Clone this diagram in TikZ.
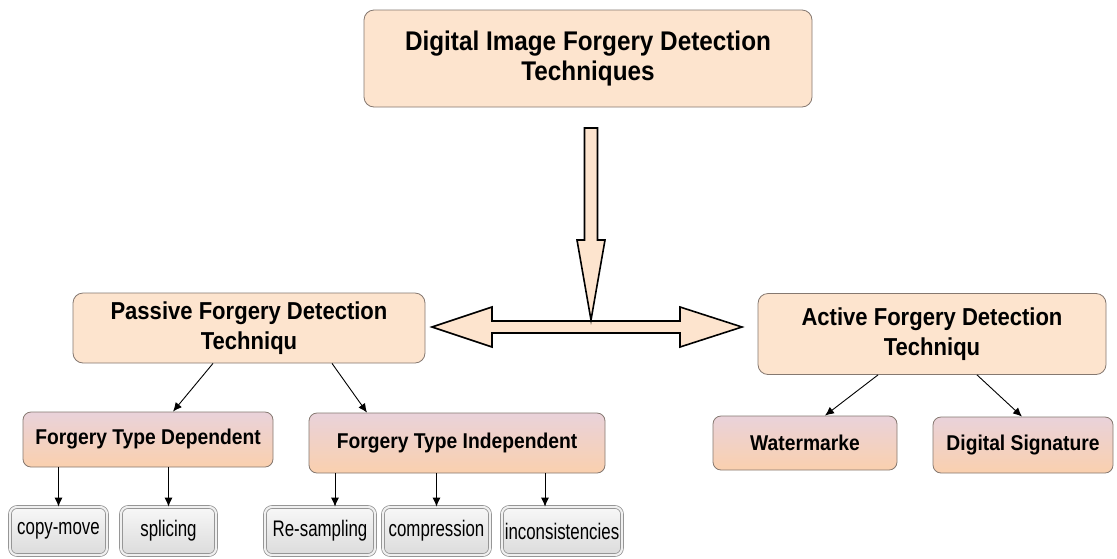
\documentclass[tikz,border=0pt]{standalone}
\usepackage{fontspec}
\setmainfont{Liberation Sans}
\newfontfamily\leaffont[FakeStretch=0.75]{Liberation Sans}
\newfontfamily\boldfont[FakeStretch=0.9]{Liberation Sans Bold}
\usetikzlibrary{arrows.meta}
\definecolor{peach}{HTML}{FDE4CE}
\definecolor{boxgray}{HTML}{857870}
\definecolor{pinktop}{HTML}{E9D2DA}
\definecolor{peachbot}{HTML}{FAD0AE}
\definecolor{leafgray}{HTML}{8A8A8A}
\tikzset{
  topbox/.style={rounded corners=10pt, draw=boxgray, line width=0.8pt, fill=peach,
    align=center, inner sep=0pt, font=\boldfont\fontsize{27}{30}\selectfont},
  lvlone/.style={rounded corners=10pt, draw=boxgray, line width=0.8pt, fill=peach,
    align=center, inner sep=0pt, font=\boldfont\fontsize{24.5}{30}\selectfont},
  lvltwo/.style={rounded corners=8pt, draw=boxgray, line width=0.8pt, top color=pinktop,
    bottom color=peachbot, inner sep=0pt, font=\boldfont\fontsize{21.4}{24}\selectfont},
  leafbox/.style={rounded corners=7pt, draw=leafgray, line width=0.7pt, double=gray!12,
    double distance=2.2pt, top color=gray!6, bottom color=gray!28, inner sep=0pt,
    font=\leaffont\fontsize{22.5}{24}\selectfont},
  conn/.style={draw=black, line width=0.9pt, -{Latex[length=9pt,width=8pt]}},
  bigarrow/.style={fill=peach, draw=black, line width=1.6pt, line join=miter},
}
\begin{document}
\begin{tikzpicture}[x=1pt,y=-1pt]
\clip (0,0) rectangle (1117,558);
\fill[white] (0,0) rectangle (1117,558);

% top box
\node[topbox, minimum width=448pt, minimum height=97pt] (top) at (588,58.5)
  {Digital Image Forgery Detection\\Techniques};

% level one
\node[lvlone, minimum width=352pt, minimum height=70pt] (passive) at (249,328)
  {Passive Forgery Detection\\Techniqu};
\node[lvlone, minimum width=348pt, minimum height=81pt] (active) at (932,334)
  {Active Forgery Detection\\Techniqu};

% big arrows
\draw[bigarrow] (432,327) -- (492,307) -- (492,321) -- (680,321) -- (680,307) -- (742,327)
  -- (680,347) -- (680,333) -- (492,333) -- (492,347) -- cycle;
\draw[bigarrow] (584.5,128) -- (597.5,128) -- (597.5,240) -- (605,240) -- (591,320)
  -- (577,240) -- (584.5,240) -- cycle;

% level two
\node[lvltwo, minimum width=250pt, minimum height=55pt] (dep) at (148,439.5) {Forgery Type Dependent};
\node[lvltwo, minimum width=296pt, minimum height=60pt] (indep) at (457,443) {Forgery Type Independent};
\node[lvltwo, minimum width=184pt, minimum height=54pt] (water) at (805,443) {Watermarke};
\node[lvltwo, minimum width=180pt, minimum height=56pt] (dsig) at (1023,445) {Digital Signature};

% leaves
\node[leafbox, minimum width=97pt, minimum height=48pt] (copy) at (58.5,531) {copy-move};
\node[leafbox, minimum width=95pt, minimum height=48pt] (splic) at (168.5,531) {splicing};
\node[leafbox, minimum width=110pt, minimum height=48pt] (resamp) at (320,531) {Re-sampling};
\node[leafbox, minimum width=107pt, minimum height=48pt] (compr) at (436.5,531) {compression};
\node[leafbox, minimum width=120pt, minimum height=48pt] (incon) at (562,531) {inconsistencies};

% connectors
\draw[conn] ([xshift=-36pt]passive.south) -- ([xshift=25pt]dep.north);
\draw[conn] ([xshift=83pt]passive.south) -- ([xshift=-90pt]indep.north);
\draw[conn] ([xshift=-54pt]active.south) -- ([xshift=20pt]water.north);
\draw[conn] ([xshift=45pt]active.south) -- ([xshift=-1pt]dsig.north);

\draw[conn] (dep.south -| copy.north) -- (copy.north);
\draw[conn] (dep.south -| splic.north) -- (splic.north);
\draw[conn] (indep.south -| 335,0) -- (resamp.north -| 335,0);
\draw[conn] (indep.south -| compr.north) -- (compr.north);
\draw[conn] (indep.south -| 545,0) -- (incon.north -| 545,0);
\end{tikzpicture}
\end{document}
